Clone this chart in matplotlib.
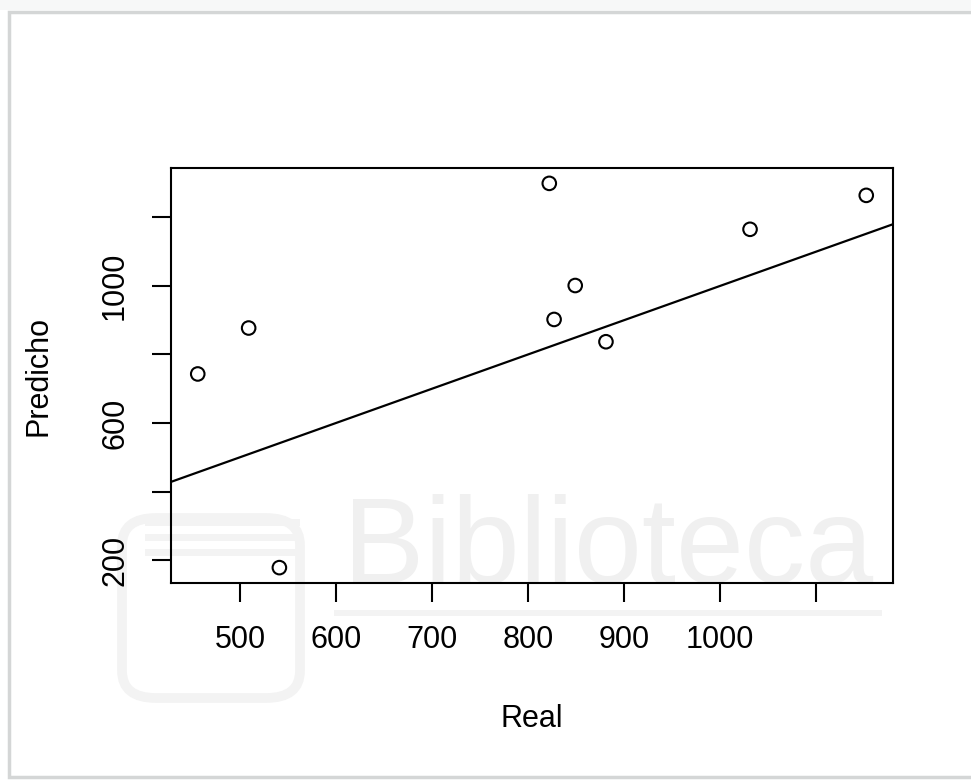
import matplotlib
matplotlib.use("Agg")
import matplotlib.pyplot as plt
from matplotlib.patches import Rectangle, FancyBboxPatch

# Data
real = [456, 509, 541, 822, 827, 849, 881, 1031, 1152]
predicho = [743, 877, 178, 1299, 902, 1001, 837, 1165, 1264]

x_ticks = [500, 600, 700, 800, 900, 1000, 1100]
x_labels = ["500", "600", "700", "800", "900", "1000", ""]
y_ticks = [200, 400, 600, 800, 1000, 1200]
y_labels = ["200", "", "600", "", "1000", ""]

plt.rcParams["font.family"] = ["Liberation Sans", "DejaVu Sans"]

W, H = 971, 780
fig = plt.figure(figsize=(W / 100, H / 100), dpi=100)
fig.patch.set_facecolor("white")

# screenshot frame
fig.patches.append(Rectangle((0, 1 - 10 / H), 1, 10 / H, transform=fig.transFigure,
                             facecolor="#f7f8f8", edgecolor="none", zorder=-6))
fig.patches.append(Rectangle((9 / W, 3 / H), 1.0, 1 - 15 / H, transform=fig.transFigure,
                             facecolor="white", edgecolor="#d4d6d6", linewidth=2.5, zorder=-5))

# faint watermark (logo + text)
wm = "#f3f3f3"
fig.patches.append(FancyBboxPatch((122 / W, 1 - 698 / H), 178 / W, 180 / H,
                                  boxstyle="round,pad=0,rounding_size=0.035",
                                  transform=fig.transFigure, facecolor="none",
                                  edgecolor=wm, linewidth=7, zorder=-4))
for yb in [520, 535, 550]:
    fig.patches.append(Rectangle((145 / W, 1 - (yb + 6) / H), 155 / W, 7 / H,
                                 transform=fig.transFigure, facecolor=wm,
                                 edgecolor="none", zorder=-4))
fig.patches.append(Rectangle((334 / W, 1 - 616 / H), 548 / W, 6 / H,
                             transform=fig.transFigure, facecolor=wm,
                             edgecolor="none", zorder=-4))
fig.text(343 / W, 1 - 583 / H, "Biblioteca", fontsize=88, color="#f0f0f0",
         ha="left", va="baseline", zorder=-3)

ax = fig.add_axes([171 / W, 1 - 583 / H, 722 / W, 415 / H])
ax.set_facecolor("none")

ax.scatter(real, predicho, s=95, facecolors="none", edgecolors="black", linewidths=1.5, zorder=3)
ax.axline((0, 0), slope=1, color="black", linewidth=1.6)

# R style 4% padding
xr = max(real) - min(real)
yr = max(predicho) - min(predicho)
ax.set_xlim(min(real) - 0.04 * xr, max(real) + 0.04 * xr)
ax.set_ylim(min(predicho) - 0.04 * yr, max(predicho) + 0.04 * yr)

ax.set_xticks(x_ticks)
ax.set_xticklabels(x_labels)
ax.set_yticks(y_ticks)
ax.set_yticklabels(y_labels, rotation=90, va="center")

ax.tick_params(axis="both", length=13.5, width=1.5, labelsize=22, color="black")
ax.tick_params(axis="x", pad=17)
ax.tick_params(axis="y", pad=16)
for sp in ax.spines.values():
    sp.set_linewidth(1.5)

ax.set_xlabel("Real", fontsize=22)
ax.xaxis.set_label_coords(0.5, -0.328)
ax.xaxis.label.set_va("center")
ax.set_ylabel("Predicho", fontsize=22)
ax.yaxis.set_label_coords(-0.184, 0.5)
ax.yaxis.label.set_va("center")

fig.savefig("out.png", dpi=100)
